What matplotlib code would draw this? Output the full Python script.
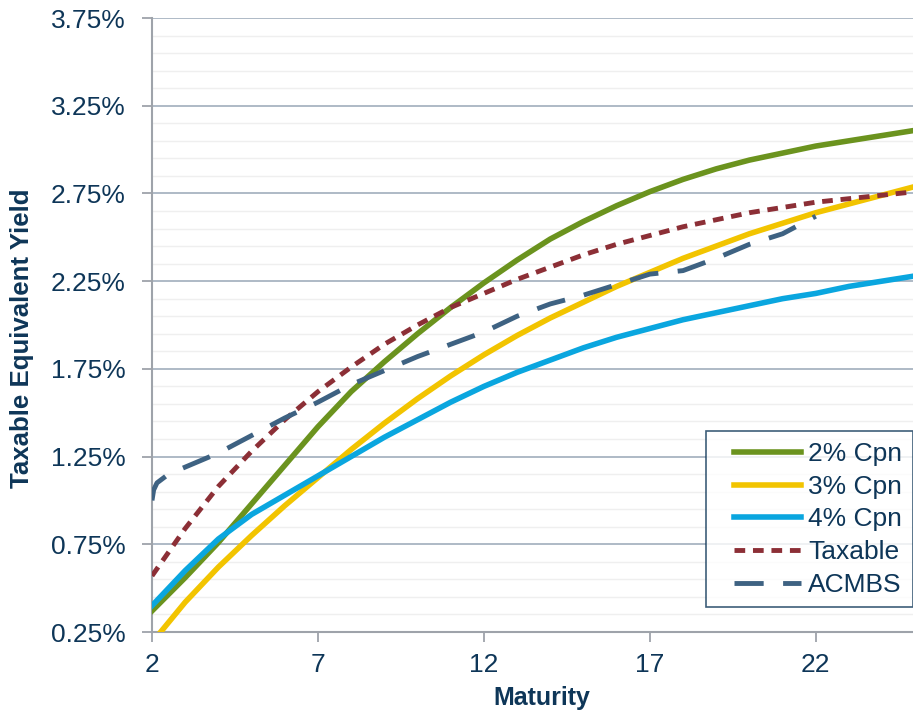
import matplotlib.pyplot as plt
import numpy as np
from matplotlib.ticker import FixedLocator, FuncFormatter
from matplotlib.legend_handler import HandlerLine2D

# maturity grid (years)
maturity = [2, 3, 4, 5, 6, 7, 8, 9, 10, 11, 12, 13, 14, 15, 16, 17, 18, 19, 20, 21, 22, 23, 24, 25]

cpn2 = [0.37, 0.56, 0.76, 0.98, 1.20, 1.42, 1.62, 1.79, 1.95, 2.10, 2.24, 2.37, 2.49, 2.59, 2.68, 2.76,
        2.83, 2.89, 2.94, 2.98, 3.02, 3.05, 3.08, 3.11]
cpn3 = [0.19, 0.42, 0.62, 0.80, 0.97, 1.13, 1.29, 1.44, 1.58, 1.71, 1.83, 1.94, 2.04, 2.13, 2.22, 2.30,
        2.38, 2.45, 2.52, 2.58, 2.64, 2.69, 2.74, 2.79]
cpn4 = [0.40, 0.60, 0.78, 0.92, 1.03, 1.14, 1.25, 1.36, 1.46, 1.56, 1.65, 1.73, 1.80, 1.87, 1.93, 1.98,
        2.03, 2.07, 2.11, 2.15, 2.18, 2.22, 2.25, 2.28]
taxable = [0.57, 0.84, 1.08, 1.28, 1.46, 1.62, 1.76, 1.89, 2.00, 2.10, 2.18, 2.26, 2.33, 2.40, 2.46, 2.51,
           2.56, 2.60, 2.64, 2.67, 2.70, 2.72, 2.74, 2.76]

acmbs_mat = [2, 2.05, 2.15, 2.5, 3, 3.5, 4, 5, 6, 7, 8, 9, 10, 11, 12, 13, 14, 15, 16, 17, 18, 19, 20, 21, 22]
acmbs = [1.00, 1.06, 1.10, 1.15, 1.19, 1.23, 1.27, 1.37, 1.47, 1.56, 1.66, 1.74, 1.82, 1.89, 1.96, 2.05,
         2.12, 2.17, 2.23, 2.29, 2.31, 2.38, 2.46, 2.52, 2.62]

x_ticks = [2, 7, 12, 17, 22]
y_ticks = [0.25, 0.75, 1.25, 1.75, 2.25, 2.75, 3.25, 3.75]

navy = '#0E3658'
plt.rcParams['font.family'] = ['Liberation Sans', 'DejaVu Sans']

fig = plt.figure(figsize=(9.13, 7.10), dpi=100)
ax = fig.add_axes([152/913, 78/710, 1 - 152/913, (632-18)/710])

ax.plot(maturity, cpn2, color='#6B931E', lw=4, label='2% Cpn', zorder=4)
ax.plot(maturity, cpn3, color='#F2C400', lw=4, label='3% Cpn', zorder=4)
ax.plot(maturity, cpn4, color='#0AA6DF', lw=4, label='4% Cpn', zorder=4)
ax.plot(maturity, taxable, color='#8C2F36', lw=3.5, ls=(0, (2.2, 1.6)), label='Taxable', zorder=5)
ax.plot(acmbs_mat, acmbs, color='#3E6282', lw=3.5, ls=(0, (6, 4)), label='ACMBS', zorder=5)

ax.set_xlim(2, 24.93)
ax.set_ylim(0.25, 3.75)
ax.xaxis.set_major_locator(FixedLocator(x_ticks))
ax.yaxis.set_major_locator(FixedLocator(y_ticks))
ax.yaxis.set_minor_locator(FixedLocator(np.arange(0.35, 3.75, 0.1)))
ax.yaxis.set_major_formatter(FuncFormatter(lambda v, p: f'{v:.2f}%'))

ax.grid(axis='y', which='major', color='#A8B4C2', lw=1.3, zorder=1)
ax.grid(axis='y', which='minor', color='#EFEFEF', lw=1.0, zorder=1)
ax.set_axisbelow(True)

for s in ['top', 'right']:
    ax.spines[s].set_visible(False)
ax.spines['left'].set_color('#9EA3AA')
ax.spines['left'].set_linewidth(1.5)
ax.spines['bottom'].set_color('#9EA3AA')
ax.spines['bottom'].set_linewidth(1.5)

ax.tick_params(axis='both', which='major', labelsize=19, colors='#9EA3AA', labelcolor=navy,
               length=7, width=1.3)
ax.tick_params(axis='y', which='minor', length=0)
ax.tick_params(axis='y', pad=12)
ax.tick_params(axis='x', pad=8)

ax.set_xlabel('Maturity', fontsize=18, fontweight='bold', color=navy)
ax.set_ylabel('Taxable Equivalent Yield', fontsize=18.6, fontweight='bold', color=navy)
ax.xaxis.set_label_coords(0.5125, -0.088)
ax.yaxis.set_label_coords(-0.155, 0.479)

leg = ax.legend(loc='lower right', bbox_to_anchor=(1.0, 0.04), fontsize=19, frameon=True,
                fancybox=False, handlelength=3.2, handletextpad=0.27, labelspacing=0.33,
                borderpad=0.4, borderaxespad=0,
                handler_map={plt.Line2D: HandlerLine2D(xpad=0.66)})
leg.get_frame().set_edgecolor(navy)
leg.get_frame().set_linewidth(1.2)
for t in leg.get_texts():
    t.set_color(navy)

plt.savefig('out.png', dpi=100)
